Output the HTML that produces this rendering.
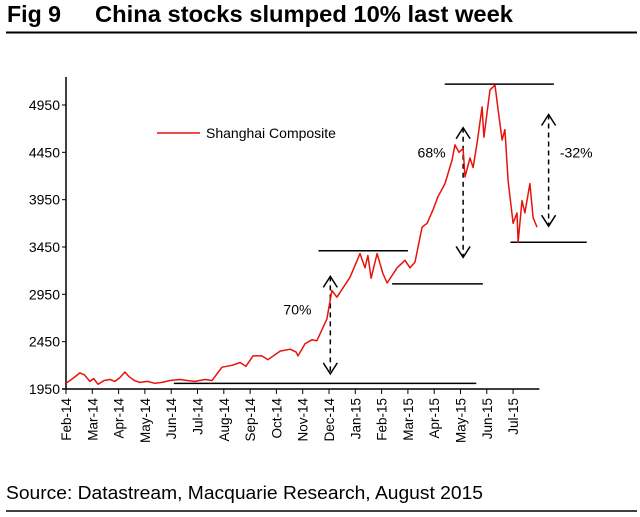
<!DOCTYPE html>
<html><head><meta charset="utf-8"><style>
body{margin:0;background:#fff;}
svg{display:block;font-family:"Liberation Sans",Arial,sans-serif;}
</style></head><body>
<svg id="chart" width="640" height="517" viewBox="0 0 640 517" xmlns="http://www.w3.org/2000/svg">
<text x="7" y="22" font-size="23" font-weight="bold" textLength="54" lengthAdjust="spacingAndGlyphs">Fig 9</text>
<text x="95" y="22" font-size="23" font-weight="bold" textLength="418" lengthAdjust="spacingAndGlyphs">China stocks slumped 10% last week</text>
<line x1="6" y1="32.5" x2="637" y2="32.5" stroke="#000" stroke-width="2"/>
<text x="6" y="499" font-size="18" textLength="477" lengthAdjust="spacingAndGlyphs">Source: Datastream, Macquarie Research, August 2015</text>
<line x1="6" y1="511" x2="637" y2="511" stroke="#000" stroke-width="1.5"/>
<g id="axes"></g>
<g id="annot"></g>
<g id="series"></g>
</svg>
<script>
const monthLabels=["Feb-14","Mar-14","Apr-14","May-14","Jun-14","Jul-14","Aug-14","Sep-14","Oct-14","Nov-14","Dec-14","Jan-15","Feb-15","Mar-15","Apr-15","May-15","Jun-15","Jul-15"];
const yTicks=[1950,2450,2950,3450,3950,4450,4950];
// month index (0 = Feb-14)
const dates=[0,0.25,0.53,0.7,0.91,1.05,1.22,1.45,1.67,1.86,2.05,2.24,2.4,2.6,2.81,3.1,3.38,3.65,3.95,4.33,4.6,4.9,5.29,5.55,5.93,6.31,6.62,6.84,7.11,7.45,7.68,8.14,8.52,8.75,8.82,9.09,9.35,9.54,9.92,10.11,10.3,10.8,11.18,11.37,11.48,11.6,11.83,12.05,12.21,12.59,12.89,13.08,13.27,13.54,13.73,13.95,14.14,14.41,14.68,14.79,14.94,15.1,15.17,15.36,15.48,15.63,15.82,15.89,16.12,16.31,16.43,16.58,16.69,16.81,17.0,17.15,17.19,17.34,17.45,17.64,17.76,17.91];
const values=[2010,2060,2120,2100,2030,2060,2000,2040,2050,2030,2070,2130,2080,2040,2020,2030,2010,2020,2040,2050,2040,2030,2050,2040,2180,2200,2230,2190,2300,2300,2260,2350,2370,2340,2300,2430,2470,2460,2690,2990,2920,3130,3380,3230,3360,3120,3380,3170,3070,3230,3310,3230,3290,3660,3700,3840,3980,4120,4370,4530,4450,4490,4190,4390,4290,4550,4930,4610,5110,5160,4900,4580,4690,4150,3700,3810,3500,3940,3810,4120,3760,3660];
const x0=66,monthW=26.3,yBase=389,yTopVal=4950,yTopPx=105;
function X(m){return x0+m*monthW;}
function Y(v){return yBase-(v-1950)*(yBase-yTopPx)/(yTopVal-1950);}
const NS="http://www.w3.org/2000/svg";
function mk(tag,attrs,parent){const e=document.createElementNS(NS,tag);for(const k in attrs)e.setAttribute(k,attrs[k]);parent.appendChild(e);return e;}
const axes=document.getElementById('axes');
const ya=mk('line',{x1:x0,y1:77,x2:x0,y2:yBase,stroke:'#000','stroke-width':1.5},axes);


const xa=mk('line',{x1:x0-4,y1:yBase,x2:X(18),y2:yBase,stroke:'#000','stroke-width':1.5},axes);


yTicks.forEach(v=>{
  const t=mk('line',{x1:x0-4,y1:Y(v),x2:x0,y2:Y(v),stroke:'#000','stroke-width':1},axes);
  
  
  const l=mk('text',{x:x0-6,y:Y(v)+5,'font-size':14,'text-anchor':'end'},axes);
  l.textContent=v;
  
  
});
monthLabels.forEach((m,i)=>{
  const x=X(i);
  const t=mk('line',{x1:x,y1:yBase,x2:x,y2:yBase+5,stroke:'#000','stroke-width':1},axes);
  
  
  const l=mk('text',{x:0,y:0,'font-size':13.5,'text-anchor':'end',transform:`translate(${x+5},${yBase+9}) rotate(-90)`},axes);
  l.textContent=m;
  
  
});
const an=document.getElementById('annot');
const levelVals=[2010,3410,3060,5170,3500];
const levelStart=[4.1,9.6,12.4,14.4,16.9];
const levelEnd=[15.6,13.0,15.85,18.55,19.8];
levelVals.forEach((v,i)=>{
  const l=mk('line',{x1:X(levelStart[i]),y1:Y(v),x2:X(levelEnd[i]),y2:Y(v),stroke:'#000','stroke-width':1.5},an);
  
  
});
const arrowMonth=[10.05,15.1,18.35];
const arrowLow=[2110,3340,3670];
const arrowHigh=[3140,4710,4850];
const arrowLabel=["70%","68%","-32%"];
const labelMonth=[8.8,13.9,19.4];
const labelVal=[2790,4450,4450];
arrowMonth.forEach((m,i)=>{
  const x=X(m),y1=Y(arrowHigh[i]),y2=Y(arrowLow[i]);
  const l=mk('line',{x1:x,y1:y1,x2:x,y2:y2,stroke:'#000','stroke-width':1.5,'stroke-dasharray':'5,4'},an);
  
  
  const h1=mk('polyline',{points:`${x-7},${y1+11} ${x},${y1} ${x+7},${y1+11}`,fill:'none',stroke:'#000','stroke-width':1.5},an);
  
  
  const h2=mk('polyline',{points:`${x-7},${y2-11} ${x},${y2} ${x+7},${y2-11}`,fill:'none',stroke:'#000','stroke-width':1.5},an);
  
  
  const t=mk('text',{x:X(labelMonth[i]),y:Y(labelVal[i])+5,'font-size':14,'text-anchor':'middle'},an);
  t.textContent=arrowLabel[i];
  
  
});
const sg=document.getElementById('series');
const pts=dates.map((d,i)=>X(d).toFixed(1)+','+Y(values[i]).toFixed(1)).join(' ');
const line=mk('polyline',{points:pts,fill:'none',stroke:'#e8120c','stroke-width':1.5,'stroke-linejoin':'round'},sg);


const lg=mk('line',{x1:157,y1:133,x2:200,y2:133,stroke:'#e8120c','stroke-width':1.5},sg);


const lt=mk('text',{x:206,y:138,'font-size':14},sg);
lt.textContent='Shanghai Composite';


</script>
</body></html>
